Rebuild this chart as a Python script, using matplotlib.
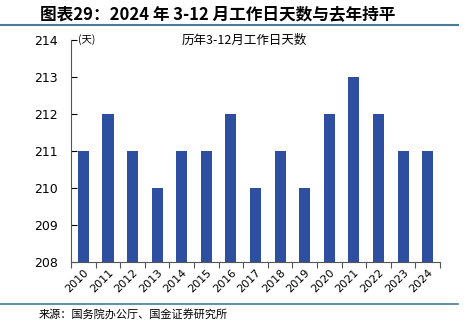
import matplotlib
matplotlib.use("Agg")
import matplotlib.pyplot as plt
from matplotlib.lines import Line2D

plt.rcParams['font.family'] = ['Noto Sans CJK SC', 'DejaVu Sans']

years = ['2010', '2011', '2012', '2013', '2014', '2015', '2016', '2017',
         '2018', '2019', '2020', '2021', '2022', '2023', '2024']
workdays = [211, 212, 211, 210, 211, 211, 212, 210, 211, 210, 212, 213, 212, 211, 211]

fig = plt.figure(figsize=(4.71, 3.22), dpi=100)
ax = fig.add_axes([0.151, 0.186, 0.783, 0.69])

x = range(len(years))
ax.bar(x, [v - 208 for v in workdays], bottom=208, width=0.45, color='#2E4FA0')

ax.set_ylim(208, 214)
ax.set_xlim(-0.5, len(years) - 0.5)
ax.set_yticks(range(208, 215))
ax.tick_params(axis='y', direction='in', length=4, labelsize=9, pad=9.5, width=0.8)
# boundary ticks as major, year labels as minor
ax.set_xticks([i + 0.5 for i in range(-1, len(years))], minor=False)
ax.set_xticklabels([''] * (len(years) + 1))
ax.set_xticks(list(x), minor=True)
ax.set_xticklabels(years, minor=True, rotation=45, ha='right', rotation_mode='anchor', fontsize=8)
ax.tick_params(axis='x', which='major', direction='out', length=4, width=0.8, color='#555555')
ax.tick_params(axis='x', which='minor', length=0, pad=4)
for lab in ax.get_xticklabels(minor=True):
    lab.set_fontfamily(['DejaVu Sans'])
for lab in ax.get_yticklabels():
    lab.set_fontfamily(['DejaVu Sans'])

for s in ['top', 'right']:
    ax.spines[s].set_visible(False)
ax.spines['left'].set_color('#555555')
ax.spines['bottom'].set_color('#555555')
ax.spines['left'].set_linewidth(0.8)
ax.spines['bottom'].set_linewidth(0.8)

ax.text(0.02, 1.0, '(天)', transform=ax.transAxes, fontsize=7.5, va='center', ha='left')
ax.text(0.47, 1.0, '历年3-12月工作日天数', transform=ax.transAxes, fontsize=9, va='center', ha='center')

fig.text(0.085, 0.955, '图表29：2024 年 3-12 月工作日天数与去年持平', fontsize=12,
         fontweight='bold', style='italic', va='center', ha='left')
fig.add_artist(Line2D([0.0, 0.973], [0.922, 0.922], color='#4A7A9C', lw=1.5))
fig.add_artist(Line2D([0.0, 0.973], [0.056, 0.056], color='#4A7A9C', lw=1.2))
fig.text(0.083, 0.022, '来源：国务院办公厅、国金证券研究所', fontsize=8, va='center', ha='left')

fig.savefig('out.png', dpi=100)
